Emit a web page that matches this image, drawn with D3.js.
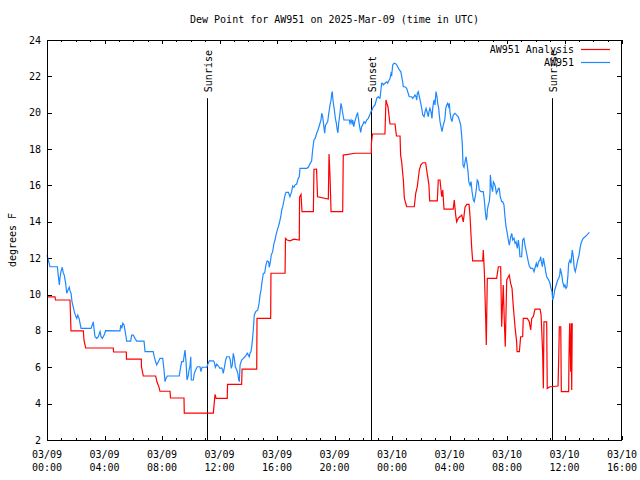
<!DOCTYPE html>
<html>
<head>
<meta charset="utf-8">
<script src="https://cdn.jsdelivr.net/npm/d3@7"></script>
<style>
  html, body { margin: 0; padding: 0; background: #fff; }
  svg { display: block; }
  text { font-family: "DejaVu Sans Mono", "Liberation Mono", monospace; font-size: 10px; fill: #000; }
</style>
</head>
<body>
<svg id="chart" width="640" height="480"></svg>
<script>
// ---- data (hours since 2025-03-09 00:00 UTC) ----
const titleText = "Dew Point for AW951 on 2025-Mar-09 (time in UTC)";
const yLabelText = "degrees F";
const seriesNames = ["AW951 Analysis", "AW951"];
const seriesColors = ["#ff0000", "#1e88ff"];

const analysisHours = [0,0.56,0.59,1.60,1.67,2.53,2.57,2.69,4.61,4.63,5.52,5.53,6.56,6.57,6.70,7.56,7.65,7.79,7.86,8.56,8.59,9.53,9.55,11.57,11.69,11.76,12.54,12.56,13.54,13.57,14.59,14.61,15.56,15.58,16.56,16.59,16.70,16.90,17.18,17.55,17.57,17.67,17.74,18.53,18.57,18.75,18.82,19.57,19.62,19.69,19.76,20.57,20.61,21.43,22.56,22.57,22.64,23.51,23.58,23.65,23.72,23.86,24.21,24.31,24.56,24.60,24.67,24.79,24.86,25.02,25.55,25.65,25.76,25.90,26.00,26.14,26.34,26.41,26.48,26.57,26.62,27.15,27.22,27.34,27.41,27.46,27.53,27.62,28.26,28.33,28.43,28.50,28.61,28.85,28.96,29.08,29.20,29.36,29.43,29.54,29.61,30.31,30.35,30.42,30.52,30.56,30.63,31.28,31.40,31.56,31.63,31.74,31.81,31.88,31.98,32.16,32.26,32.35,32.44,32.56,32.67,32.70,32.86,32.95,33.09,33.13,33.41,33.55,33.65,33.72,33.83,33.95,34.30,34.37,34.48,34.53,34.57,34.76,34.80,34.99,35.55,35.60,35.64,35.74,35.78,36.29,36.31,36.36,36.43,36.47,36.50,36.54];
const analysisValues = [9.87,9.87,9.7,9.7,8.0,8.0,7.5,7.06,7.06,6.84,6.84,6.45,6.45,6.03,5.52,5.52,5.2,4.91,4.68,4.68,4.31,4.31,3.48,3.48,4.51,4.29,4.29,5.06,5.06,5.9,5.9,8.69,8.69,11.17,11.17,13.09,13.0,12.95,13.05,13.0,15.35,15.5,14.56,14.56,16.89,16.9,15.38,15.25,17.73,16.48,14.56,14.56,17.67,17.77,17.77,18.32,18.83,18.83,20.7,20.5,20.33,19.38,19.38,18.72,18.72,17.67,17.31,16.3,15.29,14.83,14.83,15.57,15.93,16.85,17.12,17.25,17.25,16.85,16.5,16.02,15.15,15.15,16.3,16.3,15.75,15.38,15.75,14.7,14.7,15.2,14.37,14.0,14.2,14.37,14.0,14.8,14.96,14.96,14.28,12.63,11.85,11.85,12.45,11.35,8.6,7.22,10.89,10.89,11.53,11.53,8.23,10.53,8.6,7.13,10.8,11.07,10.6,10.34,9.33,8.2,7.41,6.86,6.86,7.68,7.68,8.69,8.69,8.5,8.05,8.69,8.8,9.2,9.2,8.9,6.78,4.84,8.5,8.5,4.84,4.93,4.97,6.58,8.23,8.23,4.66,4.66,6.49,8.42,5.76,8.42,4.75,8.42];

const obsHours = [0,0.09,0.21,0.72,0.79,0.86,0.90,0.97,1.06,1.13,1.20,1.30,1.37,1.46,1.55,1.60,1.67,1.74,1.83,1.90,2.00,2.07,2.14,2.23,2.30,2.37,3.06,3.15,3.22,3.27,3.34,3.46,3.57,3.69,3.76,3.85,3.99,4.08,5.08,5.13,5.20,5.27,5.36,5.43,5.50,5.54,5.82,5.89,6.00,6.12,6.24,6.75,6.82,7.39,7.46,7.56,7.63,7.74,7.86,8.05,8.14,8.21,8.28,8.37,9.20,9.30,9.37,9.48,9.55,9.60,9.67,9.74,9.81,9.88,9.95,10.00,10.04,10.18,10.25,10.34,10.46,10.64,10.71,10.78,11.11,11.22,11.29,11.57,11.64,11.71,11.81,11.92,12.03,12.15,12.22,12.26,12.33,12.43,12.50,12.68,12.75,12.82,12.89,12.96,13.03,13.10,13.20,13.27,13.34,13.38,13.43,13.54,13.66,13.73,13.84,13.93,14.00,14.07,14.12,14.19,14.24,14.28,14.35,14.42,14.52,14.59,14.66,14.75,14.82,14.89,14.96,15.05,15.14,15.23,15.32,15.42,15.46,15.53,15.60,15.70,15.79,15.86,15.93,16.02,16.09,16.16,16.26,16.33,16.40,16.49,16.56,16.63,16.79,16.90,17.02,17.09,17.18,17.25,17.37,17.48,17.55,17.60,18.07,18.18,18.30,18.41,18.48,18.57,18.66,18.76,18.85,18.92,18.99,19.06,19.11,19.18,19.22,19.27,19.32,19.37,19.46,19.53,19.60,19.64,19.69,19.76,19.81,19.85,19.87,19.92,19.99,20.06,20.13,20.19,20.24,20.29,20.38,20.45,20.52,20.57,20.66,21.03,21.08,21.15,21.22,21.27,21.34,21.41,21.48,21.54,21.61,21.68,21.75,21.82,21.89,21.96,22.05,22.14,22.24,22.35,22.45,22.54,22.61,22.70,22.82,22.94,23.05,23.12,23.17,23.21,23.28,23.35,23.39,23.51,23.63,23.70,23.74,23.86,23.93,23.98,24.05,24.14,24.28,24.37,24.51,24.61,24.68,24.74,24.79,24.90,25.02,25.09,25.13,25.20,25.37,25.44,25.53,25.60,25.67,25.72,25.76,25.83,25.90,26.00,26.07,26.14,26.23,26.30,26.37,26.46,26.53,26.57,26.64,26.71,26.78,26.83,26.90,26.94,26.99,27.06,27.13,27.18,27.25,27.29,27.34,27.41,27.48,27.57,27.67,27.74,27.81,27.87,27.94,27.99,28.03,28.10,28.17,28.26,28.38,28.50,28.61,28.68,28.78,28.85,28.89,28.94,29.01,29.08,29.15,29.22,29.29,29.34,29.43,29.50,29.57,29.66,29.72,29.79,29.86,29.93,30.00,30.07,30.19,30.35,30.42,30.49,30.56,30.61,30.63,30.70,30.77,30.82,30.84,30.91,31.00,31.05,31.12,31.19,31.26,31.32,31.40,31.46,31.53,31.63,31.70,31.79,31.86,31.93,32.02,32.09,32.16,32.26,32.33,32.40,32.49,32.56,32.63,32.72,32.79,32.86,32.90,33.02,33.09,33.18,33.25,33.32,33.41,33.48,33.55,33.65,33.79,33.88,33.97,34.04,34.11,34.20,34.30,34.34,34.39,34.46,34.53,34.62,34.69,34.76,34.83,34.90,34.99,35.06,35.13,35.18,35.25,35.32,35.39,35.46,35.53,35.60,35.67,35.71,35.81,35.87,35.97,36.03,36.10,36.17,36.24,36.29,36.38,36.45,36.54,36.61,36.68,36.75,36.85,36.92,37.01,37.08,37.15,37.24,37.31,37.43,37.55,37.66,37.73];
const obsValues = [12.17,11.9,11.53,11.53,11.0,10.53,10.9,11.26,11.5,11.2,11.07,10.6,10.07,10.25,10.4,10.2,10.07,9.61,9.3,9.06,8.8,8.69,8.87,8.69,8.42,8.14,8.14,8.32,8.5,8.14,7.68,7.59,7.68,7.96,7.68,7.59,7.8,8.01,8.0,8.32,8.14,8.42,8.32,8.0,7.68,7.44,7.44,7.77,7.77,7.59,7.44,7.44,6.86,6.86,6.58,6.3,6.13,6.3,6.49,6.49,5.85,5.21,5.39,5.52,5.52,6.03,6.31,6.31,6.68,6.95,6.31,5.3,5.48,5.85,6.07,6.58,5.3,5.3,5.67,5.85,6.03,6.03,5.76,6.0,6.0,6.22,6.35,6.35,6.28,6.0,6.17,6.07,5.94,5.96,5.85,5.67,5.94,6.4,6.58,6.58,6.4,5.94,6.13,6.77,6.49,6.03,5.85,5.67,5.3,5.21,6.12,6.4,6.49,6.55,6.64,6.77,6.68,6.58,6.77,6.86,7.13,7.41,8.05,8.88,9.06,9.11,9.15,9.5,9.97,10.25,10.71,11.17,11.17,11.63,11.85,11.8,11.5,11.75,12.17,12.36,12.82,13.0,13.27,13.54,13.72,13.92,14.28,14.65,14.83,15.2,15.48,15.62,15.62,15.38,15.66,15.97,15.9,16.02,16.08,16.39,16.48,16.94,16.94,17.0,17.2,17.36,17.95,18.5,18.6,18.87,19.05,19.23,19.42,19.6,19.97,19.78,19.51,19.15,18.87,19.3,19.42,19.51,19.97,20.15,20.43,20.7,21.07,21.16,20.88,20.52,20.15,19.69,19.42,19.05,18.9,19.42,19.97,20.52,20.25,19.97,19.6,19.6,19.42,19.6,19.42,19.6,19.23,19.51,19.69,19.87,19.97,19.6,19.23,18.92,19.23,19.33,19.51,19.42,19.6,19.69,19.87,20.06,20.15,20.33,20.43,20.8,20.88,20.8,20.8,21.1,21.62,21.62,21.53,21.62,21.7,21.62,21.7,21.88,22.17,22.08,22.63,22.72,22.68,22.57,22.35,22.26,21.98,21.7,21.43,21.43,21.34,21.16,21.06,20.88,20.88,20.79,20.88,20.98,20.88,20.7,21.06,21.16,20.88,20.52,20.24,19.87,19.78,20.06,20.24,19.97,19.78,20.06,20.24,20.06,19.69,20.24,20.61,20.7,20.43,21.16,20.88,20.52,20.24,19.87,19.51,19.23,18.96,19.33,19.6,20.24,20.43,20.52,20.34,20.52,20.06,19.69,19.51,19.87,19.97,19.87,19.78,19.6,19.33,18.7,18.3,17.12,17.0,17.3,17.58,17.2,16.76,16.21,16.0,16.21,15.66,15.2,15.11,15.38,15.75,16.3,16.21,15.75,15.66,15.66,15.2,14.56,14.1,14.28,14.65,14.93,15.11,15.6,16.58,16.0,15.66,16.2,16.1,15.93,15.57,15.66,15.84,15.84,15.38,15.11,15.11,14.93,14.28,13.73,13.36,13.0,12.72,13.17,13.36,13.0,13.1,12.82,12.9,12.54,13.0,12.54,12.08,12.08,13.0,13.09,12.72,12.45,12.08,11.81,11.57,11.44,11.44,11.26,11.53,11.72,11.5,11.81,11.9,12.08,11.81,11.53,12.0,11.62,11.26,10.98,10.89,10.8,10.62,10.34,10.16,9.7,9.88,10.25,10.43,10.62,10.8,10.89,11.08,11.44,11.08,10.71,10.43,10.53,10.34,10.43,11.08,11.72,11.9,11.72,12.45,12.08,11.44,11.26,11.62,11.9,12.17,12.54,12.82,13.0,13.1,13.18,13.27,13.36,13.42];

const eventHours = [11.14, 22.55, 35.15];
const eventLabels = ["Sunrise", "Sunset", "Sunrise"];
const eventTopValue = 20.8;

const yTicks = [2,4,6,8,10,12,14,16,18,20,22,24];
const xTickHours = [0,4,8,12,16,20,24,28,32,36,40];
const xTickDates = ["03/09","03/09","03/09","03/09","03/09","03/09","03/10","03/10","03/10","03/10","03/10"];
const xTickTimes = ["00:00","04:00","08:00","12:00","16:00","20:00","00:00","04:00","08:00","12:00","16:00"];

// ---- drawing ----
const base = Date.UTC(2025, 2, 9, 0, 0);
const toDate = h => new Date(base + h * 3600e3);
const W = 640, H = 480;
const margin = { left: 47, right: 18, top: 40, bottom: 40 };

const svg = d3.select("#chart");
const x = d3.scaleUtc().domain([toDate(0), toDate(40)]).range([margin.left, W - margin.right]);
const y = d3.scaleLinear().domain([2, 24]).range([H - margin.bottom, margin.top]);

// minor/major ticks (inward, all four sides)
const hourTicks = d3.range(0, 41, 1).map(toDate);
const majorSet = new Set(xTickHours);
const gBottom = svg.append("g").attr("transform", `translate(0,${y(2)})`)
  .call(d3.axisTop(x).tickValues(hourTicks).tickSizeOuter(0).tickFormat(""));
gBottom.selectAll(".tick line").attr("y2", (d, i) => majorSet.has(i) ? -4 : -2);
const gTop = svg.append("g").attr("transform", `translate(0,${y(24)})`)
  .call(d3.axisBottom(x).tickValues(hourTicks).tickSizeOuter(0).tickFormat(""));
gTop.selectAll(".tick line").attr("y2", (d, i) => majorSet.has(i) ? 4 : 2);
const gLeft = svg.append("g").attr("transform", `translate(${x(toDate(0))},0)`)
  .call(d3.axisRight(y).tickValues(yTicks).tickSize(5).tickSizeOuter(0).tickFormat(""));
const gRight = svg.append("g").attr("transform", `translate(${x(toDate(40))},0)`)
  .call(d3.axisLeft(y).tickValues(yTicks).tickSize(5).tickSizeOuter(0).tickFormat(""));
svg.selectAll(".domain").remove();
svg.selectAll(".tick line").attr("stroke", "#000").attr("stroke-width", 1).attr("shape-rendering", "crispEdges");

// tick labels
svg.append("g").selectAll("text").data(yTicks).join("text")
  .attr("x", margin.left - 6).attr("y", d => y(d)).attr("dy", "0.35em")
  .attr("text-anchor", "end").text(d => d);
const xl = svg.append("g").selectAll("g").data(xTickHours).join("g")
  .attr("transform", d => `translate(${x(toDate(d))},${y(2)})`);
xl.append("text").attr("y", 18).attr("text-anchor", "middle").text((d, i) => xTickDates[i]);
xl.append("text").attr("y", 31).attr("text-anchor", "middle").text((d, i) => xTickTimes[i]);

// event lines
const ev = svg.append("g").selectAll("g").data(eventHours).join("g");
ev.append("line")
  .attr("x1", d => Math.round(x(toDate(d))) + 0.5).attr("x2", d => Math.round(x(toDate(d))) + 0.5)
  .attr("y1", y(eventTopValue)).attr("y2", y(2))
  .attr("stroke", "#000").attr("stroke-width", 1);
ev.append("text")
  .attr("transform", d => `translate(${x(toDate(d)) + 1},${y(eventTopValue) - 6}) rotate(-90)`)
  .attr("dy", "0.35em").attr("text-anchor", "start")
  .text((d, i) => eventLabels[i]);

// series
const line = d3.line().x(d => x(toDate(d[0]))).y(d => y(d[1]));
const analysis = analysisHours.map((h, i) => [h, analysisValues[i]]);
const obs = obsHours.map((h, i) => [h, obsValues[i]]);
svg.append("path").datum(analysis).attr("d", line)
  .attr("fill", "none").attr("stroke", seriesColors[0]).attr("stroke-width", 1.2);
svg.append("path").datum(obs).attr("d", line)
  .attr("fill", "none").attr("stroke", seriesColors[1]).attr("stroke-width", 1.2);

// border
svg.append("rect")
  .attr("x", x(toDate(0)) + 0.5).attr("y", y(24) + 0.5)
  .attr("width", x(toDate(40)) - x(toDate(0)) - 1).attr("height", y(2) - y(24))
  .attr("fill", "none").attr("stroke", "#000").attr("stroke-width", 1);

// legend
const legX = x(toDate(40)) - 12;
const leg = svg.append("g").selectAll("g").data(seriesNames).join("g")
  .attr("transform", (d, i) => `translate(${legX},${y(24) + 9 + i * 13})`);
leg.append("line").attr("x1", -29).attr("x2", 0).attr("y1", 0.5).attr("y2", 0.5)
  .attr("stroke", (d, i) => seriesColors[i]).attr("stroke-width", 1.2);
leg.append("text").attr("x", -36).attr("dy", "0.35em").attr("text-anchor", "end").text(d => d);

// title and y label
svg.append("text").attr("x", (margin.left + W - margin.right) / 2).attr("y", 23)
  .attr("text-anchor", "middle").text(titleText);
svg.append("text").attr("transform", `translate(12,${(y(2) + y(24)) / 2}) rotate(-90)`)
  .attr("text-anchor", "middle").attr("dy", "0.35em").text(yLabelText);
</script>
</body>
</html>
